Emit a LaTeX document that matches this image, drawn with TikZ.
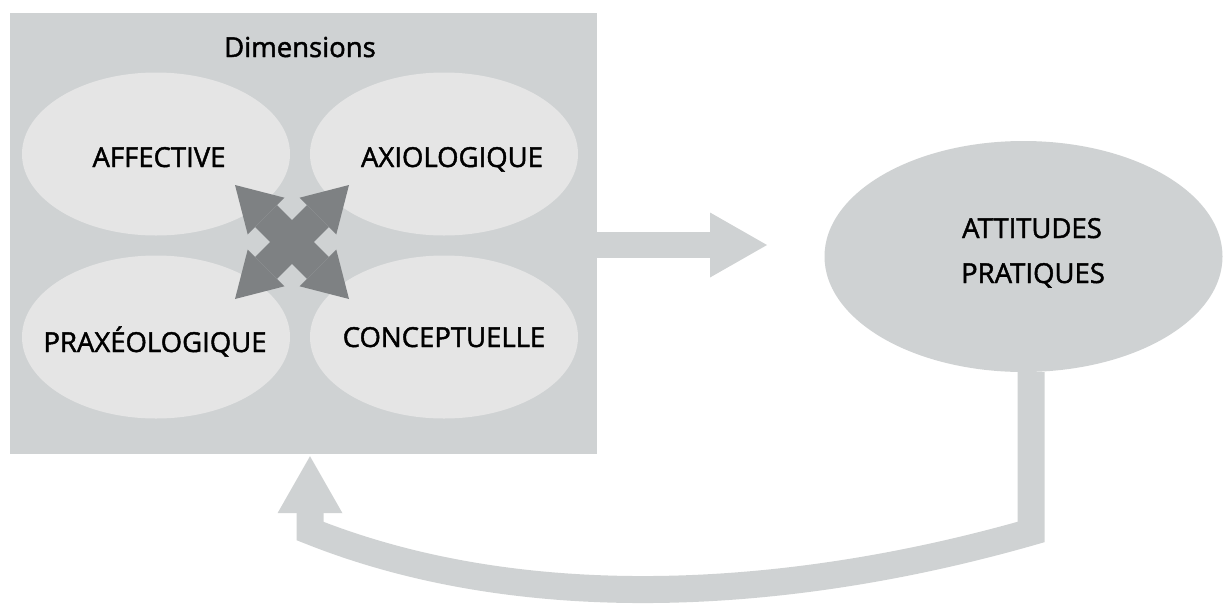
\documentclass[tikz,border=0pt]{standalone}
\usepackage{fontspec}
\setmainfont{Open Sans}
\newfontfamily\lblfont{Open Sans}[FakeBold=1.6]
\usetikzlibrary{shapes.geometric,arrows.meta}
\definecolor{boxgray}{HTML}{CFD2D3}
\definecolor{ellgray}{HTML}{E5E5E5}
\definecolor{darkgray}{HTML}{7E8183}
\tikzset{
  lbl/.style={anchor=base,inner sep=0pt,font=\lblfont\fontsize{27.5}{32}\selectfont,text=black},
  dimell/.style={ellipse,fill=ellgray,draw=none,minimum width=268pt,minimum height=163pt,inner sep=0pt},
  crossarrow/.style={draw=darkgray,line width=31pt,
    {Triangle[length=44pt,width=52pt,line width=0pt]}-{Triangle[length=44pt,width=52pt,line width=0pt]}},
  bigarrow/.style={draw=boxgray,line width=26pt,line join=miter,
    -{Triangle[length=57pt,width=65pt,line width=0pt]}}
}
\begin{document}
\begin{tikzpicture}[x=1pt,y=-1pt]
\useasboundingbox (0,0) rectangle (1224,603);
% main box
\node (dim) [fill=boxgray,minimum width=587pt,minimum height=441pt,inner sep=0pt] at (303.5,233.5) {};
\node (dimT) [lbl] at (300,57) {Dimensions};
% four ellipses
\node (aff) [dimell] at (156,154) {};
\node (axi) [dimell] at (444,154) {};
\node (pra) [dimell] at (156,337) {};
\node (con) [dimell] at (444,337) {};
\node (affT) [lbl] at (159,167) {AFFECTIVE};
\node (axiT) [lbl] at (452,167) {AXIOLOGIQUE};
\node (praT) [lbl] at (155,352) {PRAXÉOLOGIQUE};
\node (conT) [lbl] at (444,347) {CONCEPTUELLE};
% cross arrows
\coordinate (xtl) at (235,185);
\coordinate (xtr) at (349,185);
\coordinate (xbl) at (235,299);
\coordinate (xbr) at (349,299);
\draw[crossarrow] (xtl) -- (xbr);
\draw[crossarrow] (xtr) -- (xbl);
% right ellipse
\node (att) [ellipse,fill=boxgray,minimum width=398pt,minimum height=231pt,inner sep=0pt] at (1023.5,256.5) {};
\node (attT1) [lbl] at (1032,238) {ATTITUDES};
\node (attT2) [lbl] at (1033,283) {PRATIQUES};
% right arrow
\coordinate (rtip) at (767,245);
\draw[bigarrow] (dim.east |- rtip) -- (rtip);
% feedback loop
\coordinate (rc) at (1031,532);
\coordinate (lc) at (310,531);
\draw[bigarrow,line width=27pt] (att.south -| rc) -- (rc)
  .. controls (804,597) and (533,620) .. (lc) -- ([yshift=-2pt]dim.south -| lc);
\end{tikzpicture}
\end{document}
